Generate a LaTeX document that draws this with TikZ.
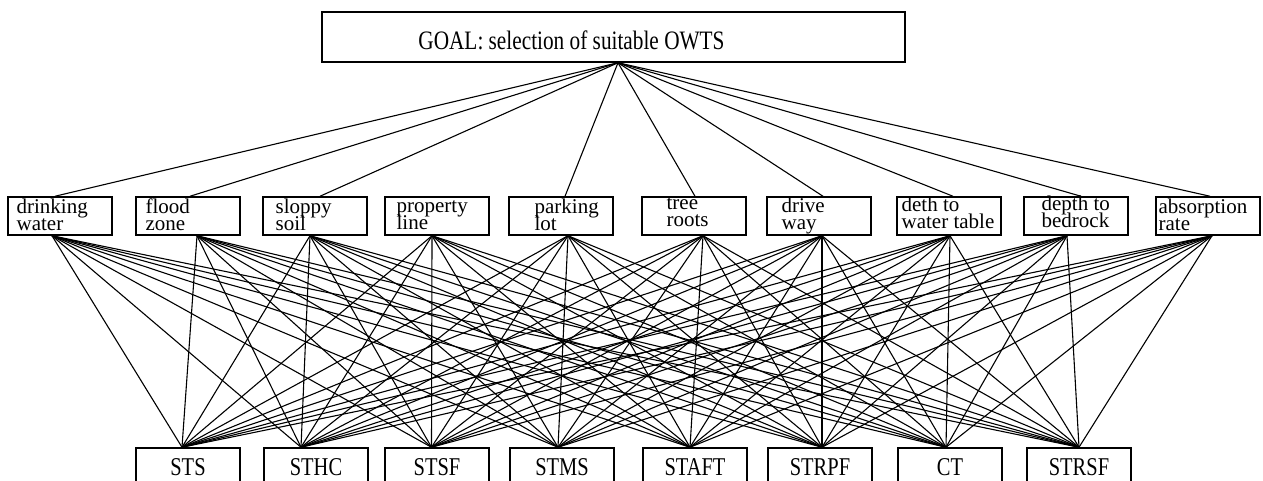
\documentclass[tikz,border=0pt]{standalone}
\usepackage{fontspec}
\setmainfont{Liberation Serif}
\newfontfamily\condfont[FakeStretch=0.8]{Liberation Serif}
\usetikzlibrary{calc}
\newcommand\critfont{\fontsize{10.5}{8.6}\selectfont\lineskiplimit=-10pt\relax}

\begin{document}
\begin{tikzpicture}[x=0.5pt, y=-0.5pt]
\tikzset{
	box/.style={draw, line width=0.75pt, inner sep=0pt},
	goalbox/.style={box, minimum width=291.5pt, minimum height=25pt},
	critbox/.style={box, minimum width=52pt, minimum height=19pt},
	altbox/.style={box, minimum width=52pt, minimum height=19pt, font=\condfont\fontsize{12.8}{12.8}\selectfont},
	crittext/.style={inner sep=0pt, anchor=base west, align=left, font=\critfont},
	goaltext/.style={inner sep=0pt, anchor=base west, font=\condfont\fontsize{13.3}{13.3}\selectfont},
	link/.style={line width=0.55pt}
}
\useasboundingbox (0,0) rectangle (1263,481);
\clip (0,0) rectangle (1263,481);

% goal
\node[goalbox] (goal) at (613.5,37) {};
\node[goaltext] (goal-txt) at (418,50) {GOAL: selection of suitable OWTS};
\coordinate (goal-out) at ($(goal.south)+(4.5,0)$);

% criteria (\bl = baseline of the second line)
\foreach \i/\x/\ind/\bl/\din/\dout/\txt in {
		1/60/9/34.7/-5/-8/{drinking\\water},
		2/188/10/34.7/2/9/{flood\\zone},
		3/315/13/34.7/5/-5/{sloppy\\soil},
		4/437/12/33/0/-5/{property\\line},
		5/561/26/34.7/4/7/{parking\\lot},
		6/694/25/30/1/9/{tree\\roots},
		7/819/15/33/4/3/{drive\\way},
		8/949/5/32/4/1/{deth to\\water table},
		9/1076/18/31/5/-9/{depth to\\bedrock},
		10/1208/3/34.7/2/4/{absorption\\rate}}{
	\node[critbox] (c\i) at (\x,216) {};
	\node[crittext] (c\i-txt) at ($(c\i.north west)+(\ind,\bl)$) {\txt};
	\coordinate (c\i-in) at ($(c\i.north)+(\din,0)$);
	\coordinate (c\i-out) at ($(c\i.south)+(\dout,0)$);
}

% alternatives
\foreach \j/\x/\din/\txt in {
		1/188/-6/STS,
		2/316/-15/STHC,
		3/437/-5.5/STSF,
		4/562/-4/STMS,
		5/695/-5/STAFT,
		6/820/2/STRPF,
		7/950/-4/CT,
		8/1079/0/STRSF}{
	\node[altbox] (a\j) at (\x,467) {\txt};
	\coordinate (a\j-in) at ($(a\j.north)+(\din,0)$);
}

% links
\foreach \i in {1,2,3,5,6,7,8,9,10}
	\draw[link] (goal-out) -- (c\i-in);
\foreach \i in {1,...,10}
	\foreach \j in {1,...,8}
		\draw[link] (c\i-out) -- (a\j-in);
\end{tikzpicture}
\end{document}
